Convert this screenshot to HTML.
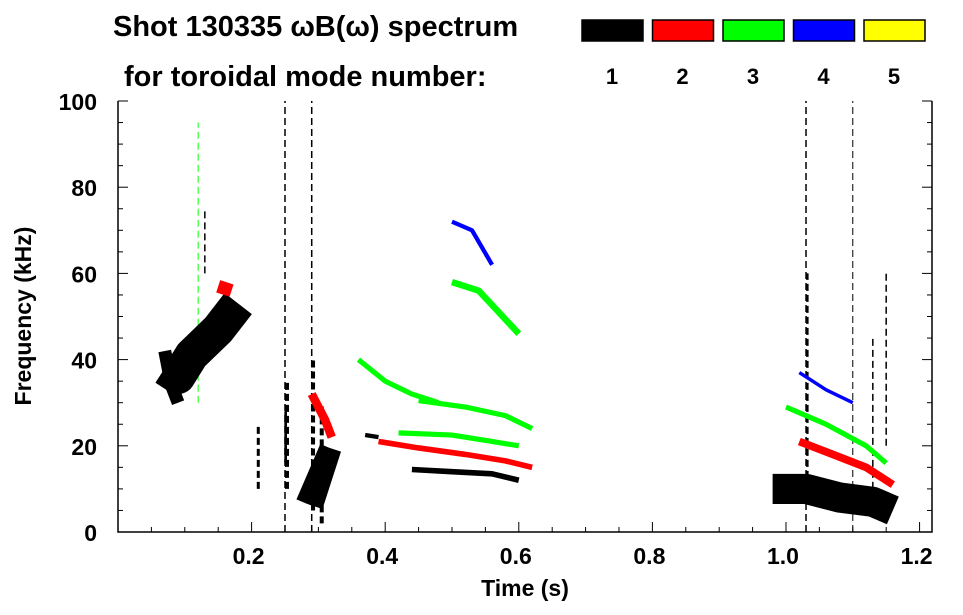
<!DOCTYPE html>
<html><head><meta charset="utf-8"><style>
body{margin:0;background:#fff;width:963px;height:615px;overflow:hidden}
svg{display:block;font-family:"Liberation Sans",sans-serif;font-weight:bold}
</style></head><body>
<svg id="chart" width="963" height="615" viewBox="0 0 963 615">
<g>
<text x="113" y="36" font-size="29">Shot 130335 ωB(ω) spectrum</text>
<text x="124" y="86" font-size="29">for toroidal mode number:</text>
</g>
<g id="legend"></g>
<g id="marks"></g>
<g id="axes"></g>
<text x="525" y="596" font-size="23" text-anchor="middle">Time (s)</text>
<text transform="translate(31,316) rotate(-90)" font-size="23" text-anchor="middle">Frequency (kHz)</text>
</svg>
<script>
const modeLabels=["1","2","3","4","5"];
const modeColors=["#000000","#ff0000","#00ff00","#0000ff","#ffff00"];
const xTicks=[0.2,0.4,0.6,0.8,1.0,1.2];
const xTickLabels=["0.2","0.4","0.6","0.8","1.0","1.2"];
const yTicks=[0,20,40,60,80,100];
const yTickLabels=["0","20","40","60","80","100"];
// tracks: mode, band width (kHz), time points, frequency points
const tracks=[
 {mode:1,w:8,t:[0.07,0.09,0.11,0.13,0.15,0.17,0.18],f:[38,36,41,44,47,51,53]},
 {mode:1,w:3,t:[0.07,0.08,0.09],f:[42,34,30]},
 {mode:2,w:3,t:[0.15,0.17],f:[57,56]},
 {mode:1,w:14,t:[0.285,0.3,0.32],f:[14,13,12]},
 {mode:1,w:12,t:[0.249,0.253],f:[22,22]},
 {mode:2,w:2,t:[0.29,0.31,0.32],f:[32,26,22]},
 {mode:1,w:1,t:[0.37,0.39],f:[22.5,22]},
 {mode:2,w:1.3,t:[0.39,0.45,0.52,0.58,0.62],f:[21,19.5,18,16.5,15]},
 {mode:1,w:1.3,t:[0.44,0.5,0.56,0.6],f:[14.5,14,13.5,12]},
 {mode:3,w:1.2,t:[0.36,0.4,0.44,0.48],f:[40,35,32,30]},
 {mode:3,w:1.2,t:[0.45,0.52,0.58,0.62],f:[30.5,29,27,24]},
 {mode:3,w:1.2,t:[0.42,0.5,0.56,0.6],f:[23,22.5,21,20]},
 {mode:3,w:1.5,t:[0.5,0.54,0.57,0.6],f:[58,56,51,46]},
 {mode:4,w:1,t:[0.5,0.53,0.56],f:[72,70,62]},
 {mode:1,w:7,t:[0.98,1.03,1.08,1.13,1.16],f:[10,10,8,7,5]},
 {mode:2,w:1.8,t:[1.02,1.07,1.12,1.16],f:[21,18,15,11]},
 {mode:3,w:1.2,t:[1.0,1.06,1.12,1.15],f:[29,25,20,16]},
 {mode:4,w:0.8,t:[1.02,1.06,1.1],f:[37,33,30]}
];
// vertical streaks: time, freq from, freq to, mode, pixel width
const streakT=[0.21,0.25,0.253,0.29,0.292,0.12,0.13,1.03,1.032,1.1,1.15,1.13,0.305];
const streakF0=[10,0,10,0,5,30,60,0,10,0,20,10,2];
const streakF1=[25,100,35,100,40,95,75,100,60,100,60,45,30];
const streakMode=[1,1,1,1,1,3,1,1,1,1,1,1,1];
const streakW=[3,1.5,4,1.5,4,1,1.5,1.5,2.5,1,1.5,1.5,4];
const L=118,R=932,T=101,B=532,tMax=1.2186;
const xS=t=>L+(t/tMax)*(R-L);
const yS=f=>B-(f/100)*(B-T);
const NS="http://www.w3.org/2000/svg";
function mk(tag,attrs,parent){const e=document.createElementNS(NS,tag);for(const k in attrs)e.setAttribute(k,attrs[k]);parent.appendChild(e);return e;}
const lg=document.getElementById('legend');
modeLabels.forEach((m,i)=>{
 const bx=582+i*70.5;
 const r=mk('rect',{x:bx,y:20,width:61,height:21,fill:modeColors[i],stroke:'#000','stroke-width':1.5},lg);
 
 
 const tx=mk('text',{x:bx+30,y:84,'font-size':22,'text-anchor':'middle'},lg);
 tx.textContent=m;
 
 
});
const mg=document.getElementById('marks');
streakT.forEach((t,i)=>{
 const l=mk('line',{x1:xS(t),x2:xS(t),y1:yS(streakF0[i]),y2:yS(streakF1[i]),stroke:modeColors[streakMode[i]-1],'stroke-width':streakW[i],'stroke-dasharray':'7 4'},mg);
 
 
});
tracks.forEach((tr,i)=>{
 const pts=tr.t.map((t,j)=>xS(t)+','+yS(tr.f[j])).join(' ');
 const p=mk('polyline',{points:pts,fill:'none',stroke:modeColors[tr.mode-1],'stroke-width':tr.w*(B-T)/100,'stroke-linejoin':'round'},mg);
 
 
});
const ax=document.getElementById('axes');
const frame=mk('path',{d:`M${L},${T}V${B}H${R}V${T}`,fill:'none',stroke:'#000','stroke-width':1.5},ax);


for(let t=0.05;t<tMax;t+=0.05){
 const major=Math.abs(t/0.2-Math.round(t/0.2))<1e-6;
 mk('line',{x1:xS(t),x2:xS(t),y1:B,y2:B-(major?10:5),stroke:'#000','stroke-width':1},ax);
}
xTicks.forEach((t,i)=>{
 const tx=mk('text',{x:xS(t)-3,y:564,'font-size':23,'text-anchor':'middle'},ax);
 tx.textContent=xTickLabels[i];
 
 
});
for(let f=0;f<=100;f+=5){
 const major=f%20===0;const len=major?10:5;
 mk('line',{x1:L,x2:L+len,y1:yS(f),y2:yS(f),stroke:'#000','stroke-width':1},ax);
 mk('line',{x1:R,x2:R-len,y1:yS(f),y2:yS(f),stroke:'#000','stroke-width':1},ax);
}
yTicks.forEach((f,i)=>{
 const tx=mk('text',{x:97,y:yS(f)+9,'font-size':23,'text-anchor':'end'},ax);
 tx.textContent=yTickLabels[i];
 
 
});
</script>
</body></html>
